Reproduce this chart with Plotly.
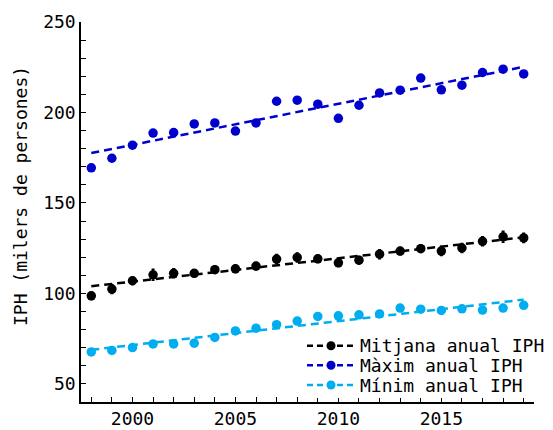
import numpy as np
import plotly.graph_objects as go

years = list(range(1998, 2020))
mitjana = [98.7, 102.4, 107.0, 110.3, 111.1, 111.1, 113.1, 113.6, 115.1, 119.0, 119.9,
           119.1, 116.9, 118.4, 121.7, 123.4, 124.7, 123.4, 125.1, 128.8, 131.3, 130.7]
mitjana_err = [2.0, 2.5, 2.0, 3.0, 2.5, 2.0, 2.0, 2.0, 2.0, 2.5, 2.5,
               2.0, 2.0, 2.0, 2.5, 2.0, 2.0, 2.5, 2.5, 2.5, 3.0, 2.5]
maxim = [169.4, 174.7, 181.9, 188.6, 188.9, 193.7, 194.2, 189.7, 194.2, 206.2, 206.8,
         204.6, 196.8, 204.0, 210.8, 212.3, 219.0, 212.5, 215.1, 222.1, 223.9, 221.3]
minim = [67.7, 68.5, 70.1, 72.1, 72.1, 72.5, 75.7, 79.3, 80.8, 82.7, 84.7,
         87.3, 87.6, 88.2, 88.7, 91.9, 91.3, 90.6, 91.5, 90.8, 91.9, 93.4]

names = ["Mitjana anual IPH", "Màxim anual IPH", "Mínim anual IPH"]
values = [mitjana, maxim, minim]
colors = ["#000000", "#0000CD", "#00AEEF"]
errors = [mitjana_err, None, None]

FONT = "DejaVu Sans Mono"
W, H = 553, 430
ML, MR, MT, MB = 81, 19, 22, 28
PW, PH = W - ML - MR, H - MT - MB


def px_x(p):
    return (p - ML) / PW


def px_y(p):
    return (H - MB - p) / PH


fig = go.Figure()
x = np.array(years, dtype=float)
for name, vals, col, err in zip(names, values, colors, errors):
    y = np.array(vals)
    a, b = np.polyfit(x, y, 1)
    fig.add_trace(go.Scatter(x=years, y=(a * x + b).tolist(), mode="lines",
                             line=dict(color=col, width=2.5, dash="8px,5px"),
                             showlegend=False, hoverinfo="skip"))
    fig.add_trace(go.Scatter(
        x=years, y=vals, mode="markers", name=name,
        marker=dict(color=col, size=9.5),
        error_y=(dict(type="data", array=err, color=col, thickness=1.5, width=1.5)
                 if err else None),
        showlegend=False))

axis_common = dict(
    showline=True, linecolor="black", linewidth=1.5, showgrid=False, zeroline=False,
    ticks="inside", ticklen=5, tickwidth=1, tickcolor="black",
    tickfont=dict(family=FONT, size=18, color="black"),
    mirror=False, automargin=False,
)
fig.update_xaxes(range=[1997.5, 2019.5], dtick=5, tick0=2000,
                 minor=dict(dtick=1, tick0=1998, ticks="inside", ticklen=5, tickcolor="black"),
                 **axis_common)
fig.update_yaxes(range=[40, 250], dtick=50, tick0=50,
                 minor=dict(dtick=10, ticks="inside", ticklen=5, tickcolor="black"),
                 **axis_common)

# legend box (drawn manually to match the reference layout)
shapes = [dict(type="rect", xref="paper", yref="paper", layer="above",
               x0=px_x(300), x1=px_x(W + 5), y0=px_y(398), y1=px_y(335),
               fillcolor="white", line=dict(width=0))]
annotations = []
rows = [345.7, 365.3, 385.0]
for name, col, ry in zip(names, colors, rows):
    shapes.append(dict(type="line", xref="paper", yref="paper", layer="above",
                       x0=px_x(307), x1=px_x(355), y0=px_y(ry), y1=px_y(ry),
                       line=dict(color=col, width=2.5, dash="6px,4px")))
    shapes.append(dict(type="circle", xref="paper", yref="paper", layer="above",
                       xsizemode="pixel", ysizemode="pixel",
                       xanchor=px_x(331), yanchor=px_y(ry),
                       x0=-4.5, x1=4.5, y0=-4.5, y1=4.5,
                       fillcolor=col, line=dict(color=col, width=0)))
    annotations.append(dict(text=name, xref="paper", yref="paper", showarrow=False,
                            x=px_x(358), y=px_y(ry), xanchor="left", yanchor="middle",
                            font=dict(family=FONT, size=18, color="black")))

annotations.append(dict(text="IPH (milers de persones)", xref="paper", yref="paper",
                        showarrow=False, textangle=-90, x=px_x(20), y=px_y(196),
                        xanchor="center", yanchor="middle",
                        font=dict(family=FONT, size=18, color="black")))

fig.update_layout(
    width=W, height=H,
    margin=dict(l=ML, r=MR, t=MT, b=MB),
    plot_bgcolor="white", paper_bgcolor="white",
    font=dict(family=FONT, size=18, color="black"),
    showlegend=False,
    shapes=shapes, annotations=annotations,
)

fig.write_html("out.html", config={"displayModeBar": False},
               post_script="document.body.style.margin='0';document.body.style.overflow='hidden';")
